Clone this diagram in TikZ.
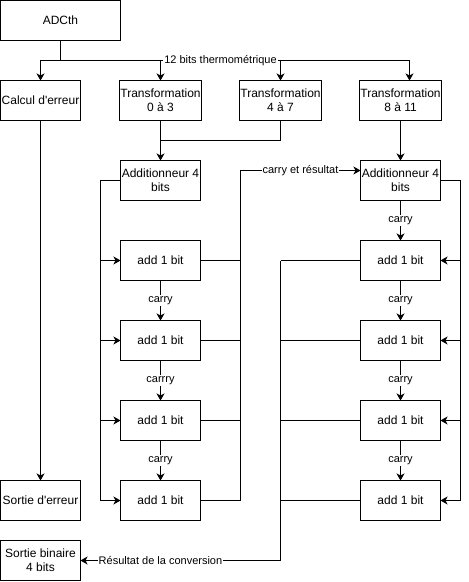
\documentclass[tikz,border=0pt]{standalone}
\usepackage{fontspec}
\setmainfont{Liberation Sans}
\usetikzlibrary{arrows.meta,calc}
\begin{document}
\begin{tikzpicture}[x=1pt,y=-1pt,line width=1pt,
  box/.style={draw,minimum width=80pt,minimum height=40pt,inner sep=1pt,outer sep=0pt,align=center,font=\fontsize{12}{14}\selectfont},
  lab/.style={fill=white,inner sep=1pt,font=\fontsize{11}{13}\selectfont},
  arr/.style={-{Stealth[length=7pt,width=8pt,inset=2pt]}}]
\useasboundingbox (-0.5,-0.5) rectangle (468.5,581.5);
\node[box,minimum width=120pt] (adc) at (60,20) {ADCth};
\node[box] (calc) at (40,100) {Calcul d\textquotesingle erreur};
\node[box] (t03) at (160,100) {Transformation\\0 à 3};
\node[box] (t47) at (280,100) {Transformation\\4 à 7};
\node[box] (t811) at (400,100) {Transformation\\8 à 11};
\node[box] (addL) at (160,180) {Additionneur 4\\bits};
\node[box] (addR) at (400,180) {Additionneur 4\\bits};
\foreach \k/\y in {1/260,2/340,3/420,4/500}{
  \node[box] (L\k) at (160,\y) {add 1 bit};
  \node[box] (R\k) at (400,\y) {add 1 bit};
}
\node[box] (serr) at (40,500) {Sortie d\textquotesingle erreur};
\node[box] (sbin) at (40,560) {Sortie binaire\\4 bits};
% bus from ADCth
\coordinate (bus) at (60,60);
\draw (adc.south) -- (bus);
\draw[arr] (bus) -| (calc.north);
\draw[arr] (bus) -| (t03.north);
\draw[arr] (bus) -| (t47.north);
\draw[arr] (bus) -| ([xshift=9pt]t811.north);
\node[lab] (lbus) at (220,60) {12 bits thermométrique};
% transformations to adders
\coordinate (j) at (160,140);
\draw[arr] (t03.south) -- (addL.north);
\draw (t47.south) |- (j);
\draw[arr] (t811.south) -- (addR.north);
\draw[arr] (calc.south) -- (serr.north);
% left bus
\draw (addL.west) -| ([xshift=-20pt]L4.west);
\foreach \k in {1,2,3,4}{
  \draw[arr] ([xshift=-20pt]L\k.west) -- (L\k.west);
  \draw (L\k.east) -- ([xshift=40pt]L\k.east);
}
\draw[arr] (L1.south) -- node[lab]{carry} (L2.north);
\draw[arr] (L2.south) -- node[lab]{carrry} (L3.north);
\draw[arr] (L3.south) -- node[lab]{carry} (L4.north);
\draw[arr] ([xshift=40pt]L4.east) |- node[lab,pos=0.75]{carry et résultat} ([yshift=10pt]addR.west);
% right bus
\draw (addR.east) -| ([xshift=20pt]R4.east);
\foreach \k in {1,2,3,4}{
  \draw[arr] ([xshift=20pt]R\k.east) -- (R\k.east);
  \draw (R\k.west) -- ([xshift=-80pt]R\k.west);
}
\draw[arr] (addR.south) -- node[lab]{carry} (R1.north);
\draw[arr] (R1.south) -- node[lab]{carry} (R2.north);
\draw[arr] (R2.south) -- node[lab]{carry} (R3.north);
\draw[arr] (R3.south) -- node[lab]{carry} (R4.north);
\draw[arr] ([xshift=-80pt]R1.west) |- node[lab,pos=0.8]{Résultat de la conversion} (sbin.east);
\end{tikzpicture}
\end{document}
